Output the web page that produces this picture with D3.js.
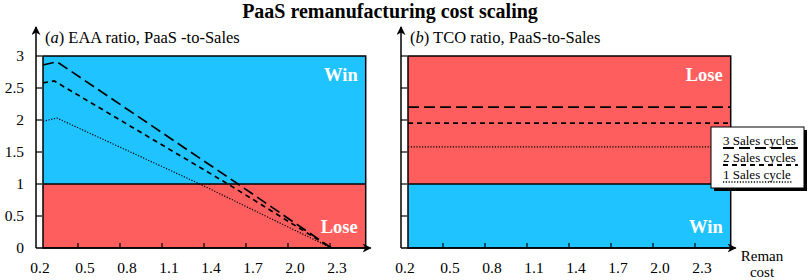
<!DOCTYPE html>
<html><head><meta charset="utf-8">
<script src="https://cdn.jsdelivr.net/npm/d3@7"></script>
<style>body{margin:0;background:#fff}svg{display:block}text{font-family:"Liberation Serif","Times New Roman",serif}</style>
</head><body><svg id="c" width="809" height="280"></svg>
<script>
// ---- data ----
const xTicks = [0.5, 0.8, 1.1, 1.4, 1.7, 2.0, 2.3];
const xTickLabels = ["0.2", "0.5", "0.8", "1.1", "1.4", "1.7", "2.0", "2.3"];
const xLabelValues = [0.2, 0.5, 0.8, 1.1, 1.4, 1.7, 2.0, 2.3];
const yTicks = [0.5, 1, 1.5, 2, 2.5, 3];
const yTickLabels = ["0", "0.5", "1", "1.5", "2", "2.5", "3"];
const yLabelValues = [0, 0.5, 1, 1.5, 2, 2.5, 3];
const regionX = [0.25, 2.555];
const threshold = 1;
const seriesNames = ["3 Sales cycles", "2 Sales cycles", "1 Sales cycle"];
// (a) EAA ratio vs reman cost
const eaaX3 = [0.25, 0.35, 1.643, 2.31];
const eaaY3 = [2.86, 2.91, 1.0, 0];
const eaaX2 = [0.25, 0.33, 1.571, 2.31];
const eaaY2 = [2.58, 2.61, 1.0, 0];
const eaaX1 = [0.25, 0.35, 1.37, 2.31];
const eaaY1 = [1.98, 2.03, 1.0, 0];
// (b) TCO ratio (constant)
const tcoValues = [2.2, 1.95, 1.58];

const svg = d3.select("#c");
const BLUE = "#1fc3ff", RED = "#ff5e5e";
const dashes = ["11,5", "5,4", "1.2,1.6"];
const widths = [1.7, 1.7, 1.2];

const y = d3.scaleLinear().domain([0, 3]).range([248, 56]);

svg.append("defs").append("marker").attr("id", "arr")
  .attr("viewBox", "0 0 10 10").attr("refX", 9).attr("refY", 5)
  .attr("markerWidth", 9).attr("markerHeight", 9).attr("markerUnits", "userSpaceOnUse")
  .attr("orient", "auto")
  .append("path").attr("d", "M0,0 L10,5 L0,10 L3,5 Z").attr("fill", "#000");

function panel(x0, topColor, botColor, topWord, botWord, subtitle, letter) {
  const x = d3.scaleLinear().domain([0.2, 2.3]).range([x0, x0 + 294]);
  const g = svg.append("g");
  const rx0 = x(regionX[0]), rx1 = x(regionX[1]);
  g.append("rect").attr("x", rx0).attr("y", y(3)).attr("width", rx1 - rx0).attr("height", y(threshold) - y(3)).attr("fill", topColor);
  g.append("rect").attr("x", rx0).attr("y", y(threshold)).attr("width", rx1 - rx0).attr("height", y(0) - y(threshold)).attr("fill", botColor);
  g.append("rect").attr("x", rx0).attr("y", y(3)).attr("width", rx1 - rx0).attr("height", y(0) - y(3)).attr("fill", "none").attr("stroke", "#000").attr("stroke-width", 1.5);
  g.append("line").attr("x1", rx0).attr("x2", rx1).attr("y1", y(threshold)).attr("y2", y(threshold)).attr("stroke", "#000").attr("stroke-width", 1.5);
  g.append("line").attr("x1", x(0.2)).attr("x2", x(0.2)).attr("y1", y(0)).attr("y2", 27).attr("stroke", "#000").attr("stroke-width", 1.5).attr("marker-end", "url(#arr)");
  g.append("line").attr("x1", x(0.2)).attr("x2", rx1 + 5).attr("y1", y(0)).attr("y2", y(0)).attr("stroke", "#000").attr("stroke-width", 1.5).attr("marker-end", "url(#arr)");
  g.selectAll(".xt").data(xTicks).join("line").attr("x1", d => x(d)).attr("x2", d => x(d)).attr("y1", y(0)).attr("y2", y(0) - 5).attr("stroke", "#000").attr("stroke-width", 1.2);
  g.selectAll(".yt").data(yTicks).join("line").attr("x1", x(0.2)).attr("x2", x(0.2) + 6).attr("y1", d => y(d)).attr("y2", d => y(d)).attr("stroke", "#000").attr("stroke-width", 1.2);
  g.selectAll(".xl").data(xLabelValues).join("text").attr("x", (d, i) => x(d) + (i === 0 ? 4 : 7)).attr("y", 273)
    .attr("text-anchor", "middle").attr("font-size", 15.5).text((d, i) => xTickLabels[i]);
  g.append("text").attr("x", rx1 - 8).attr("y", y(3) + 25).attr("text-anchor", "end").attr("fill", "#fff")
    .attr("font-family", "DejaVu Serif").attr("font-weight", "bold").attr("font-size", 18.5).text(topWord);
  g.append("text").attr("x", rx1 - 8).attr("y", y(0) - 15).attr("text-anchor", "end").attr("fill", "#fff")
    .attr("font-family", "DejaVu Serif").attr("font-weight", "bold").attr("font-size", 18.5).text(botWord);
  const st = g.append("text").attr("x", x0 + 9).attr("y", 43).attr("font-size", 16.5);
  st.append("tspan").text("(");
  st.append("tspan").attr("font-style", "italic").text(letter);
  st.append("tspan").text(") " + subtitle);
  return {g, x};
}

const A = panel(36, BLUE, RED, "Win", "Lose", "EAA ratio, PaaS -to-Sales", "a");
A.g.selectAll(".yl").data(yLabelValues).join("text").attr("x", 24).attr("y", d => y(d) + 5)
  .attr("text-anchor", "end").attr("font-size", 15.5).text((d, i) => yTickLabels[i]);
const eaa = [[eaaX3, eaaY3], [eaaX2, eaaY2], [eaaX1, eaaY1]];
const lineA = d3.line().x(d => A.x(d[0])).y(d => y(d[1]));
eaa.forEach((s, k) => {
  const pts = s[0].map((v, i) => [v, s[1][i]]);
  A.g.append("path").attr("d", lineA(pts)).attr("fill", "none").attr("stroke", "#000")
    .attr("stroke-width", widths[k]).attr("stroke-dasharray", dashes[k]);
});

const B = panel(401, RED, BLUE, "Lose", "Win", "TCO ratio, PaaS-to-Sales", "b");
tcoValues.forEach((v, k) => {
  B.g.append("line").attr("x1", B.x(regionX[0])).attr("x2", B.x(regionX[1])).attr("y1", y(v)).attr("y2", y(v))
    .attr("stroke", "#000").attr("stroke-width", widths[k]).attr("stroke-dasharray", dashes[k]);
});
svg.append("text").attr("x", 762).attr("y", 261).attr("text-anchor", "middle").attr("font-size", 15).text("Reman");
svg.append("text").attr("x", 762).attr("y", 277).attr("text-anchor", "middle").attr("font-size", 15).text("cost");

const lg = svg.append("g");
lg.append("rect").attr("x", 714).attr("y", 130).attr("width", 93).attr("height", 61).attr("fill", "#000");
lg.append("rect").attr("x", 711).attr("y", 127).attr("width", 93).attr("height", 61).attr("fill", "#fff").attr("stroke", "#000").attr("stroke-width", 1);
seriesNames.forEach((n, k) => {
  const yy = 145 + k * 17;
  const t = lg.append("text").attr("x", 723).attr("y", yy).attr("font-size", 13).text(n);
  const w = t.node().getComputedTextLength();
  lg.append("line").attr("x1", 723).attr("x2", 723 + w + 2).attr("y1", yy + 3).attr("y2", yy + 3)
    .attr("stroke", "#000").attr("stroke-width", widths[k] + 0.3).attr("stroke-dasharray", dashes[k]);
});

svg.append("text").attr("x", 390).attr("y", 18).attr("text-anchor", "middle").attr("font-size", 20)
  .attr("font-weight", "bold").text("PaaS remanufacturing cost scaling");
</script></body></html>
